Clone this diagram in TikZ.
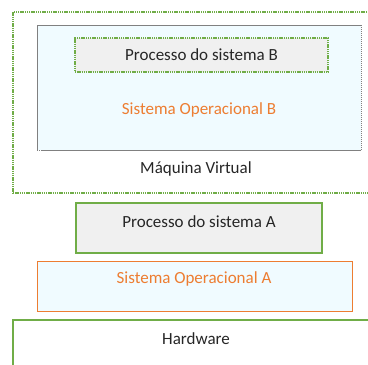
\documentclass[tikz,border=0pt]{standalone}
\usepackage{fontspec}
\setmainfont{Carlito}
\definecolor{vgreen}{HTML}{70AD47}
\definecolor{vorange}{HTML}{ED7D31}
\definecolor{vcyan}{HTML}{F0FBFF}
\definecolor{vgrayfill}{HTML}{F0F0F0}
\definecolor{vtext}{HTML}{262626}
\definecolor{vgrayline}{HTML}{808080}
\tikzset{
  box/.style={rectangle, inner sep=0pt, outer sep=0pt},
  dotgreen/.style={draw=vgreen, line width=1.6pt, dash pattern=on 1.4pt off 0.8pt},
  lbl/.style={font=\fontsize{17}{19}\selectfont, text=vtext, inner sep=0pt},
  olbl/.style={font=\fontsize{17}{19}\selectfont, text=vorange, inner sep=0pt}
}
\begin{document}
\begin{tikzpicture}[x=1pt,y=-1pt]
\useasboundingbox (0,0) rectangle (368,365);
\clip (0,0) rectangle (368,365);
% Virtual machine
\node[box, dotgreen, minimum width=367pt, minimum height=181pt, anchor=north west] (vm) at (13,12) {};
\node[box, fill=vcyan, draw=vgrayline, line width=0.6pt, dash pattern=on 1.5pt off 0.5pt, minimum width=324pt, minimum height=125pt, anchor=north west] (osb) at (37,25) {};
\node[box, fill=vgrayfill, dotgreen, minimum width=253pt, minimum height=34pt, anchor=north west] (pb) at (75,38) {};
\node[lbl] (pbt) at (201.5,55) {Processo do sistema B};
\node[olbl] (osbt) at (199,110) {Sistema Operacional B};
\node[lbl] (vmt) at (196,169) {Máquina Virtual};
% Process A
\node[box, fill=vgrayfill, draw=vgreen, line width=1.5pt, minimum width=246pt, minimum height=50pt, anchor=north west] (pa) at (76,203) {};
\node[lbl] (pat) at (199,222) {Processo do sistema A};
% OS A
\node[box, fill=vcyan, draw=vorange, line width=0.9pt, minimum width=315pt, minimum height=50pt, anchor=north west] (osa) at (37,261) {};
\node[olbl] (osat) at (194,279) {Sistema Operacional A};
% Hardware
\node[box, draw=vgreen, line width=1.5pt, minimum width=370pt, minimum height=60pt, anchor=north west] (hw) at (13,320) {};
\node[lbl] (hwt) at (196,339) {Hardware};
\end{tikzpicture}
\end{document}
